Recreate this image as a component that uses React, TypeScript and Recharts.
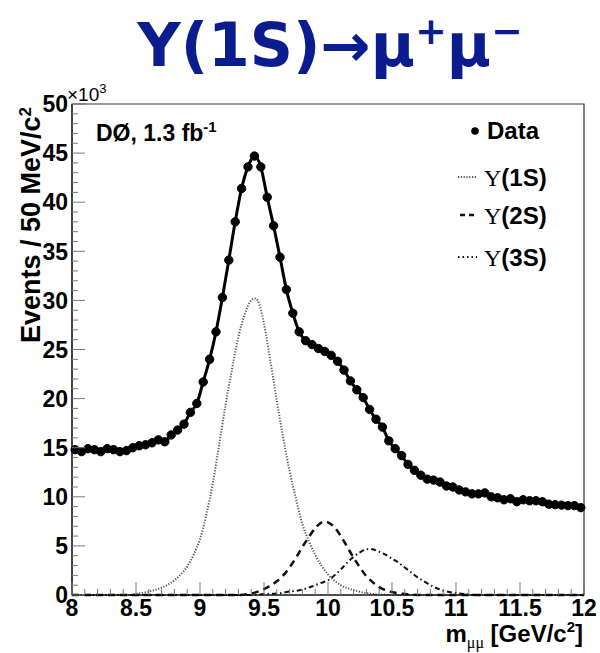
import React from 'react';
import { LineChart, Line, XAxis, YAxis, ReferenceArea } from 'recharts';

// Data histogram: 80 bins of 50 MeV from 8 to 12 GeV (values in units of 10^3 events)
const BIN_START = 8.025;
const BIN_WIDTH = 0.05;
const dataEvents = [
  14.8, 14.6, 14.9, 14.8, 14.6, 14.9, 14.8, 14.6, 14.7, 15.0,
  15.2, 15.3, 15.5, 15.8, 15.6, 16.3, 16.8, 17.4, 18.6, 19.5,
  21.7, 24.0, 26.8, 30.3, 34.1, 38.0, 41.4, 43.6, 44.7, 43.6,
  40.5, 37.6, 34.4, 31.1, 28.7, 26.8, 25.9, 25.5, 25.1, 24.8,
  24.4, 23.8, 22.9, 21.8, 20.9, 20.1, 18.9, 17.9, 17.1, 15.7,
  14.9, 14.2, 13.3, 12.7, 12.2, 11.8, 11.7, 11.5, 11.1, 11.0,
  10.7, 10.5, 10.3, 10.3, 10.4, 10.0, 9.9, 9.7, 9.8, 9.5,
  9.7, 9.6, 9.6, 9.5, 9.25, 9.2, 9.15, 9.1, 9.1, 8.9,
];

const ups1S_x = [8.0, 8.45, 8.5, 8.6, 8.7, 8.8, 8.85, 8.9, 8.95, 9.0, 9.05, 9.1, 9.15, 9.2, 9.25, 9.3, 9.35, 9.4, 9.43, 9.45, 9.5, 9.55, 9.6, 9.65, 9.7, 9.75, 9.8, 9.85, 9.9, 10.0, 10.1, 10.2, 10.3, 10.5, 12.0];
const ups1S_y = [0, 0, 0.1, 0.35, 0.75, 1.5, 2.1, 2.9, 4.1, 5.7, 8.2, 11.4, 15.3, 19.4, 23.0, 26.3, 28.6, 30.0, 30.2, 30.0, 27.6, 23.8, 19.8, 16.0, 12.6, 9.8, 7.2, 5.5, 4.1, 2.1, 1.0, 0.5, 0.2, 0, 0];

const ups2S_x = [8.0, 9.3, 9.4, 9.5, 9.6, 9.65, 9.7, 9.75, 9.8, 9.85, 9.9, 9.95, 9.975, 10.0, 10.05, 10.1, 10.15, 10.2, 10.25, 10.3, 10.35, 10.4, 10.5, 10.6, 10.7, 12.0];
const ups2S_y = [0, 0, 0.15, 0.6, 1.4, 2.0, 2.8, 3.8, 4.9, 5.9, 6.8, 7.4, 7.5, 7.4, 6.9, 6.0, 4.9, 3.8, 2.8, 1.9, 1.3, 0.8, 0.3, 0.1, 0, 0];

const ups3S_x = [8.0, 9.4, 9.5, 9.6, 9.7, 9.8, 9.9, 9.95, 10.0, 10.05, 10.1, 10.15, 10.2, 10.25, 10.3, 10.33, 10.35, 10.4, 10.45, 10.5, 10.55, 10.6, 10.65, 10.7, 10.75, 10.8, 10.9, 11.0, 11.1, 11.2, 12.0];
const ups3S_y = [0, 0, 0.1, 0.15, 0.35, 0.55, 1.0, 1.25, 1.5, 2.0, 2.6, 3.3, 3.9, 4.35, 4.65, 4.7, 4.65, 4.4, 4.1, 3.7, 3.3, 2.8, 2.3, 1.8, 1.4, 1.0, 0.45, 0.2, 0.05, 0, 0];

const xMajorTicks = [8, 8.5, 9, 9.5, 10, 10.5, 11, 11.5, 12];
const yMajorTicks = [0, 5, 10, 15, 20, 25, 30, 35, 40, 45, 50];

const xAllTicks = Array.from({ length: 41 }, (_, i) => Math.round((8 + i * 0.1) * 10) / 10);
const yAllTicks = Array.from({ length: 51 }, (_, i) => i);

const fitData = dataEvents.map((y, i) => ({ x: Math.round((BIN_START + i * BIN_WIDTH) * 1000) / 1000, y }));
const toSeries = (xs: number[], ys: number[]) => xs.map((x, i) => ({ x, y: ys[i] }));
const s1 = toSeries(ups1S_x, ups1S_y);
const s2 = toSeries(ups2S_x, ups2S_y);
const s3 = toSeries(ups3S_x, ups3S_y);

const SANS = '"Liberation Sans", Arial, Helvetica, sans-serif';
const SERIF = '"Liberation Serif", "Times New Roman", serif';
const TICK_COLOR = '#777';

const XTick = (props: any) => {
  const { x, y, payload } = props;
  const v = payload.value;
  const major = xMajorTicks.some((m) => Math.abs(m - v) < 1e-6);
  return (
    <g>
      <line x1={x} x2={x} y1={y} y2={y - (major ? 13 : 6)} stroke={TICK_COLOR} strokeWidth={1} />
      {major && (
        <text x={x} y={y + 21} textAnchor="middle" fontFamily={SANS} fontWeight={700} fontSize={23} fill="#000">
          {String(v)}
        </text>
      )}
    </g>
  );
};

const YTick = (props: any) => {
  const { x, y, payload } = props;
  const v = payload.value;
  const major = yMajorTicks.includes(v);
  return (
    <g>
      <line x1={x} x2={x + (major ? 13 : 6)} y1={y} y2={y} stroke={TICK_COLOR} strokeWidth={1} />
      {major && (
        <text x={x - 4} y={y} dy="0.36em" textAnchor="end" fontFamily={SANS} fontWeight={700} fontSize={23} fill="#000">
          {String(v)}
        </text>
      )}
    </g>
  );
};

export default function App() {
  return (
    <div style={{ position: 'absolute', left: 0, top: 0, width: 600, height: 653, background: '#fff' }}>
      <LineChart width={600} height={653} margin={{ top: 104, right: 16, bottom: 57, left: 71 }}>
        <XAxis
          type="number"
          dataKey="x"
          domain={[8, 12]}
          ticks={xAllTicks}
          interval={0}
          height={1}
          tickSize={0}
          tickMargin={0}
          tickLine={false}
          tick={<XTick />}
          axisLine={{ stroke: '#000', strokeWidth: 1 }}
        />
        <YAxis
          type="number"
          domain={[0, 50]}
          ticks={yAllTicks}
          interval={0}
          width={1}
          tickSize={0}
          tickMargin={0}
          tickLine={false}
          tick={<YTick />}
          axisLine={{ stroke: '#000', strokeWidth: 1 }}
        />
        <ReferenceArea x1={8} x2={12} y1={0} y2={50} fill="none" fillOpacity={0} stroke="#333" strokeWidth={1.2} ifOverflow="visible" />
        <Line data={s1} dataKey="y" type="monotone" stroke="#555" strokeWidth={2} strokeDasharray="1.2 1.6" dot={false} isAnimationActive={false} />
        <Line data={s2} dataKey="y" type="monotone" stroke="#111" strokeWidth={2.5} strokeDasharray="7 5" dot={false} isAnimationActive={false} />
        <Line data={s3} dataKey="y" type="monotone" stroke="#111" strokeWidth={2} strokeDasharray="5 3 1.5 3" dot={false} isAnimationActive={false} />
        <Line
          data={fitData}
          dataKey="y"
          type="monotone"
          stroke="#000"
          strokeWidth={3}
          dot={{ r: 4.2, fill: '#000', stroke: '#000', strokeWidth: 1 }}
          isAnimationActive={false}
        />
      </LineChart>
      <svg width={600} height={653} style={{ position: 'absolute', left: 0, top: 0, pointerEvents: 'none' }}>
        <text x={330} y={66} textAnchor="middle" fontFamily='"DejaVu Sans", sans-serif' fontWeight={700} fontSize={60} fill="#0b1d8e">
          Υ(1S)→μ<tspan dy={-22} fontSize={38}>+</tspan>
          <tspan dy={22}>μ</tspan>
          <tspan dy={-22} fontSize={38}>−</tspan>
        </text>
        <text x={67} y={101} fontFamily={SANS} fontSize={19} fill="#000">
          ×10<tspan dy={-8} fontSize={13}>3</tspan>
        </text>
        <text x={96} y={141} fontFamily={SANS} fontWeight={700} fontSize={23} fill="#000">
          DØ, 1.3 fb<tspan dy={-9} fontSize={15}>-1</tspan>
        </text>
        <text transform="translate(40,107) rotate(-90)" textAnchor="end" fontFamily={SANS} fontWeight={700} fontSize={27} fill="#000">
          Events / 50 MeV/c<tspan dy={-9} fontSize={17}>2</tspan>
        </text>
        <text x={583} y={642} textAnchor="end" fontFamily={SANS} fontWeight={700} fontSize={24} fill="#000">
          m<tspan dy={6} fontFamily={SERIF} fontWeight={400} fontSize={16}>μμ</tspan>
          <tspan dy={-6}> [GeV/c</tspan>
          <tspan dy={-10} fontSize={15}>2</tspan>
          <tspan dy={10}>]</tspan>
        </text>
        {/* Legend */}
        <circle cx={475} cy={131} r={3.8} fill="#000" />
        <text x={487} y={139} fontFamily={SANS} fontWeight={700} fontSize={24} fill="#000">Data</text>
        <line x1={458} x2={477} y1={177} y2={177} stroke="#555" strokeWidth={2} strokeDasharray="1.2 1.6" />
        <text x={484} y={186} fontFamily={SANS} fontWeight={700} fontSize={24} fill="#000">
          <tspan fontFamily={SERIF} fontWeight={400}>Υ</tspan>(1S)
        </text>
        <line x1={460} x2={477} y1={215} y2={215} stroke="#111" strokeWidth={2.5} strokeDasharray="5 4" />
        <text x={484} y={224} fontFamily={SANS} fontWeight={700} fontSize={24} fill="#000">
          <tspan fontFamily={SERIF} fontWeight={400}>Υ</tspan>(2S)
        </text>
        <line x1={458} x2={477} y1={257} y2={257} stroke="#111" strokeWidth={2} strokeDasharray="1.5 3" />
        <text x={484} y={266} fontFamily={SANS} fontWeight={700} fontSize={24} fill="#000">
          <tspan fontFamily={SERIF} fontWeight={400}>Υ</tspan>(3S)
        </text>
      </svg>
    </div>
  );
}
